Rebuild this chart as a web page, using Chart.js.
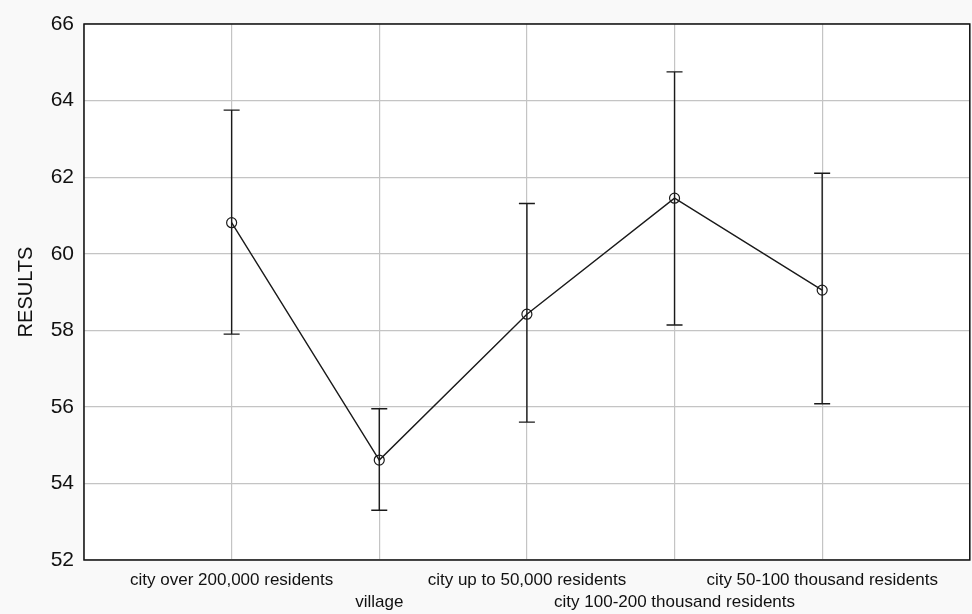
<!DOCTYPE html>
<html>
<head>
<meta charset="utf-8">
<script src="https://cdn.jsdelivr.net/npm/chart.js@4/dist/chart.umd.min.js"></script>
<style>
  html, body { margin: 0; padding: 0; background: #f9f9f9; overflow: hidden; }
  #wrap { width: 972px; height: 614px; overflow: hidden; }
  #resultsChart { width: 976px; height: 614px; }
</style>
</head>
<body>
<div id="wrap"><canvas id="resultsChart" width="976" height="614"></canvas></div>
<script>
    // data
    const categories = ['city over 200,000 residents', 'village', 'city up to 50,000 residents',
      'city 100-200 thousand residents', 'city 50-100 thousand residents'];
    const means = [60.81, 54.61, 58.42, 61.45, 59.05];
    const lower = [57.90, 53.30, 55.60, 58.14, 56.08];
    const upper = [63.75, 55.95, 61.31, 64.75, 62.10];
    const yTicks = [52, 54, 56, 58, 60, 62, 64, 66];

    const points = means.map((v, i) => ({ x: i + 1, y: v }));

    // whiskers + frame
    const errorBars = {
      id: 'errorBars',
      beforeDraw(chart) {
        const { ctx, chartArea: a } = chart;
        ctx.save();
        ctx.fillStyle = '#f9f9f9';
        ctx.fillRect(0, 0, chart.width, chart.height);
        ctx.fillStyle = '#ffffff';
        ctx.fillRect(a.left, a.top, a.right - a.left, a.bottom - a.top);
        ctx.restore();
      },
      afterDatasetsDraw(chart) {
        const { ctx, scales: { x, y } } = chart;
        ctx.save();
        ctx.strokeStyle = '#1a1a1a';
        ctx.lineWidth = 1.4;
        means.forEach((m, i) => {
          const px = x.getPixelForValue(i + 1);
          const top = y.getPixelForValue(upper[i]);
          const bot = y.getPixelForValue(lower[i]);
          ctx.beginPath();
          ctx.moveTo(px, top); ctx.lineTo(px, bot);
          ctx.moveTo(px - 8, top); ctx.lineTo(px + 8, top);
          ctx.moveTo(px - 8, bot); ctx.lineTo(px + 8, bot);
          ctx.stroke();
        });
        ctx.restore();
      },
      afterDraw(chart) {
        const { ctx, chartArea: a } = chart;
        ctx.save();
        ctx.strokeStyle = '#111';
        ctx.lineWidth = 1.5;
        ctx.strokeRect(a.left, a.top, a.right - a.left, a.bottom - a.top);
        ctx.restore();
      }
    };

    const ctx = document.getElementById('resultsChart').getContext('2d');
    new Chart(ctx, {
      type: 'line',
      data: {
        datasets: [{
          label: 'RESULTS',
          data: points,
          borderColor: '#1a1a1a',
          borderWidth: 1.4,
          pointRadius: 5,
          pointBorderWidth: 1.2,
          pointBorderColor: '#1a1a1a',
          pointBackgroundColor: 'rgba(255,255,255,0)',
          tension: 0,
          fill: false
        }]
      },
      options: {
        responsive: false,
        animation: false,
        layout: { padding: { top: 24, right: 2, left: 0, bottom: 0 } },
        plugins: {
          legend: { display: false },
          tooltip: { enabled: false }
        },
        scales: {
          x: {
            type: 'linear',
            min: 0,
            max: categories.length + 1,
            afterBuildTicks(scale) {
              scale.ticks = Array.from({ length: categories.length + 2 }, (_, i) => ({ value: i }));
            },
            afterFit(scale) {
              scale.height = 54;
              scale.paddingLeft = 0;
              scale.paddingRight = 0;
            },
            grid: { color: '#c4c4c4', lineWidth: 1.2, drawTicks: false },
            border: { display: false },
            ticks: {
              autoSkip: false,
              maxRotation: 0,
              padding: 10,
              color: '#111',
              font: { family: 'Liberation Sans, Arial, sans-serif', size: 17, lineHeight: 1.25 },
              callback(v) {
                const i = v - 1;
                if (i < 0 || i >= categories.length) return '';
                return i % 2 === 0 ? categories[i] : ['', categories[i]];
              }
            }
          },
          y: {
            min: 52,
            max: 66,
            afterBuildTicks(scale) {
              scale.ticks = yTicks.map(v => ({ value: v }));
            },
            afterFit(scale) { scale.width = 84; },
            grid: { color: '#c4c4c4', lineWidth: 1.2, drawTicks: false },
            border: { display: false },
            title: {
              display: true,
              text: 'RESULTS',
              color: '#111',
              font: { family: 'Liberation Sans, Arial, sans-serif', size: 20 },
              padding: { top: 14, bottom: 4 }
            },
            ticks: {
              padding: 10,
              color: '#111',
              font: { family: 'Liberation Sans, Arial, sans-serif', size: 21 }
            }
          }
        }
      },
      plugins: [errorBars]
    });
</script>
</body>
</html>
